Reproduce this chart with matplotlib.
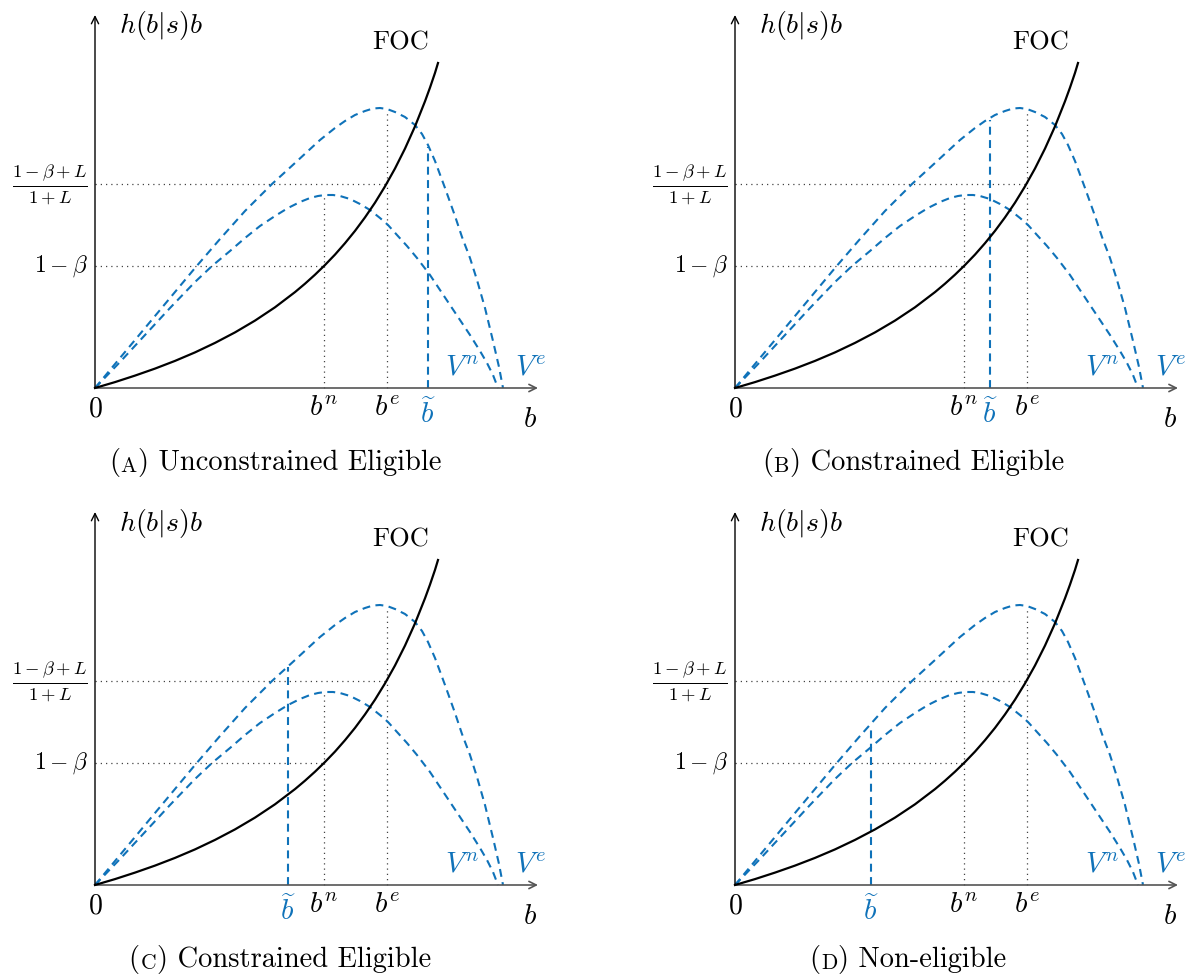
import numpy as np
import matplotlib.pyplot as plt

plt.rcParams['mathtext.fontset'] = 'cm'
plt.rcParams['font.family'] = ['cmr10', 'DejaVu Serif', 'DejaVu Sans']
plt.rcParams['axes.unicode_minus'] = False

# first order condition h(b|s)b
foc_b = [0.0, 0.2, 0.4, 0.6, 0.8, 1.0, 1.2, 1.4, 1.6, 1.8, 2.0, 2.1, 2.2, 2.3, 2.4,
         2.5, 2.6, 2.7, 2.8, 2.9, 3.0, 3.1, 3.2, 3.3, 3.35, 3.4, 3.43]
foc_h = [0.0, 0.059, 0.124, 0.194, 0.271, 0.356, 0.451, 0.556, 0.674, 0.807, 0.959,
         1.043, 1.133, 1.23, 1.334, 1.448, 1.571, 1.706, 1.853, 2.016, 2.195, 2.394,
         2.616, 2.867, 3.004, 3.151, 3.25]

# value of eligible bidder V^e
ve_b = [0.0, 0.25, 0.5, 0.75, 1.0, 1.25, 1.5, 1.77, 2.0, 2.13, 2.25, 2.4, 2.5, 2.6,
        2.7, 2.78, 2.85, 2.92, 3.0, 3.1, 3.2, 3.27, 3.33, 3.4, 3.5, 3.6, 3.67, 3.75,
        3.82, 3.9, 3.98, 4.04, 4.08]
ve_h = [0.0, 0.3, 0.6, 0.9, 1.2, 1.49, 1.77, 2.04, 2.25, 2.37, 2.48, 2.6, 2.67, 2.73,
        2.77, 2.795, 2.8, 2.79, 2.76, 2.71, 2.63, 2.54, 2.43, 2.27, 2.0, 1.72, 1.51,
        1.3, 1.08, 0.8, 0.47, 0.21, 0.0]

# value of non-eligible bidder V^n
vn_b = [0.0, 0.25, 0.5, 0.75, 1.0, 1.17, 1.35, 1.5, 1.65, 1.8, 1.93, 2.05, 2.15,
        2.23, 2.3, 2.38, 2.45, 2.55, 2.65, 2.75, 2.85, 2.93, 3.02, 3.12, 3.22, 3.35,
        3.45, 3.55, 3.65, 3.75, 3.85, 3.92, 3.98, 4.03]
vn_h = [0.0, 0.26, 0.53, 0.8, 1.06, 1.22, 1.37, 1.5, 1.62, 1.72, 1.8, 1.86, 1.9,
        1.92, 1.93, 1.93, 1.92, 1.89, 1.84, 1.78, 1.7, 1.63, 1.53, 1.42, 1.3, 1.13,
        0.98, 0.83, 0.68, 0.53, 0.37, 0.25, 0.13, 0.0]

b_n = 2.29
b_e = 2.92
vn_top = 1.93
ve_top = 2.78
one_minus_beta = 1.22
ratio_level = 2.04

panel_letters = ['A', 'B', 'C', 'D']
panel_titles = ['Unconstrained Eligible', 'Constrained Eligible',
                'Constrained Eligible', 'Non-eligible']
b_tilde = [3.33, 2.55, 1.93, 1.36]
b_tilde_top = [2.41, 2.68, 2.18, 1.55]

blue = '#0f72b9'
dash = (0, (3.8, 2.6))
dot = (0, (1, 3.2))
fs = 20


def draw_panel(ax, bt, bt_top, letter, title):
    ax.set_xlim(-0.95, 4.98)
    ax.set_ylim(-0.99, 3.88)
    ax.axis('off')

    # axes with arrow tips
    ax.annotate('', xy=(4.43, 0), xytext=(0, 0),
                arrowprops=dict(arrowstyle='->', lw=1.2, color='#555555',
                                shrinkA=0, shrinkB=0, mutation_scale=13))
    ax.annotate('', xy=(0, 3.73), xytext=(0, 0),
                arrowprops=dict(arrowstyle='->', lw=1.0, color='black',
                                shrinkA=0, shrinkB=0, mutation_scale=13))

    # guide lines
    ax.plot([0, b_n], [one_minus_beta, one_minus_beta], ls=dot, lw=0.9, color='#444444')
    ax.plot([0, b_e], [ratio_level, ratio_level], ls=dot, lw=0.9, color='#444444')
    ax.plot([b_n, b_n], [0, vn_top], ls=dot, lw=0.9, color='#444444')
    ax.plot([b_e, b_e], [0, ve_top], ls=dot, lw=0.9, color='#444444')

    ax.plot(ve_b, ve_h, ls=dash, lw=1.5, color=blue)
    ax.plot(vn_b, vn_h, ls=dash, lw=1.5, color=blue)
    ax.plot([bt, bt], [0, bt_top], ls=dash, lw=1.5, color=blue)
    ax.plot(foc_b, foc_h, color='black', lw=1.6, zorder=5)

    # labels
    ax.text(0.66, 3.62, r'$h(b|s)b$', fontsize=fs, ha='center', va='center')
    ax.text(3.06, 3.45, 'FOC', fontsize=fs - 1, ha='center', va='center')
    ax.text(-0.07, ratio_level, r'$\frac{1-\beta+L}{1+L}$', fontsize=fs - 1,
            ha='right', va='center')
    ax.text(-0.07, one_minus_beta, r'$1-\beta$', fontsize=fs - 3,
            ha='right', va='center')
    ax.text(0, -0.08, r'$0$', fontsize=fs, ha='center', va='top')
    ax.text(b_n, -0.08, r'$b^n$', fontsize=fs + 1, ha='center', va='top')
    ax.text(b_e, -0.08, r'$b^e$', fontsize=fs + 1, ha='center', va='top')
    ax.text(bt, -0.1, r'$\widetilde{b}$', fontsize=fs + 1, ha='center', va='top',
            color=blue)
    ax.text(4.35, -0.19, r'$b$', fontsize=fs + 1, ha='center', va='top')
    ax.text(3.67, 0.2, r'$V^n$', fontsize=fs + 1, ha='center', va='center', color=blue)
    ax.text(4.36, 0.2, r'$V^e$', fontsize=fs + 1, ha='center', va='center', color=blue)

    # caption "(A) ..." with a small capital letter
    t1 = ax.text(0, -0.745, '(', fontsize=fs + 0.5, ha='left', va='center')
    t2 = ax.annotate(letter, xy=(1, 0), xycoords=t1, xytext=(0.6, 1.0),
                     textcoords='offset points', fontsize=fs - 4.5, va='bottom')
    t3 = ax.annotate(') ' + title, xy=(1, 0), xycoords=t2, xytext=(0.6, -1.0),
                     textcoords='offset points', fontsize=fs + 0.5, va='bottom')
    return t1, t3


fig = plt.figure(figsize=(11.86, 9.74), dpi=100)
corners = [(0, 0), (640, 0), (0, 497), (640, 497)]
caption_centres = [1.80, 1.78, 1.85, 1.73]
captions = []
for i, (left, top) in enumerate(corners):
    ax = fig.add_axes([left / 1186, 1 - (top + 487) / 974, 593 / 1186, 487 / 974])
    t1, t3 = draw_panel(ax, b_tilde[i], b_tilde_top[i], panel_letters[i], panel_titles[i])
    captions.append((ax, t1, t3, caption_centres[i]))

# centre each caption under its panel
fig.canvas.draw()
renderer = fig.canvas.get_renderer()
for ax, t1, t3, cx in captions:
    width_px = t3.get_window_extent(renderer).x1 - t1.get_window_extent(renderer).x0
    centre_px = ax.transData.transform((cx, 0))[0]
    x_left = ax.transData.inverted().transform((centre_px - width_px / 2, 0))[0]
    t1.set_x(x_left)

fig.savefig('out.png', dpi=100)
